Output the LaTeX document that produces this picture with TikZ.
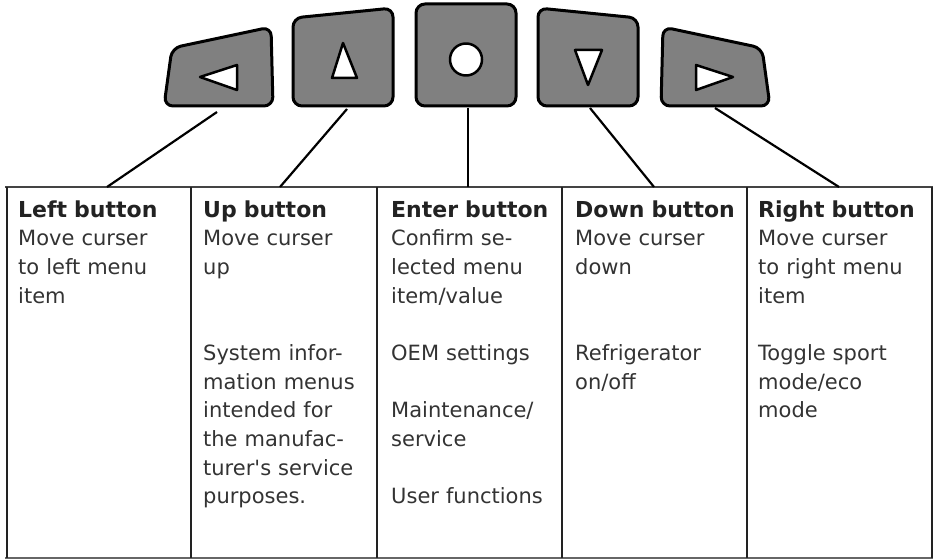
\documentclass[tikz,border=0pt]{standalone}
\usepackage{fontspec}
\setmainfont{DejaVu Sans}
\definecolor{btngray}{HTML}{808080}
\definecolor{rulecol}{HTML}{222222}
\definecolor{toprule}{HTML}{444444}
\definecolor{botrule}{HTML}{666666}
\definecolor{textcol}{HTML}{333333}
\definecolor{titlecol}{HTML}{222222}
\newcommand{\ttl}[1]{{\fontsize{22}{28.65}\selectfont\bfseries\color{titlecol}\strut #1}}
\newcommand{\gapline}{\\[28.65pt]}
\newcommand{\gaptwo}{\\[57.3pt]}
\begin{document}
\begin{tikzpicture}[x=1pt,y=-1pt,
  btn/.style={draw=black,line width=3pt,fill=btngray,rounded corners=9pt,line join=round},
  icon/.style={draw=black,line width=2.5pt,fill=white,line join=round},
  link/.style={draw=black,line width=2.2pt},
  colrule/.style={draw=rulecol,line width=2.4pt},
  cell/.style={anchor=north west,inner sep=0pt,align=left,text width=172pt,
    font=\fontsize{21}{28.65}\selectfont,text=textcol}]
\useasboundingbox (0,0) rectangle (933,559);

% buttons
\draw[btn] (172,48) -- (271,27) -- (273,106) -- (164,106) -- cycle;
\draw[btn] (293,18) -- (393,8) -- (393,106) -- (293,106) -- cycle;
\draw[btn] (416,4) -- (516,4) -- (516,106) -- (416,106) -- cycle;
\draw[btn] (538,8) -- (638,18) -- (638,106) -- (538,106) -- cycle;
\draw[btn] (663,27) -- (762,48) -- (770,106) -- (661,106) -- cycle;

% icons
\draw[icon] (200,77) -- (237,65) -- (237,90) -- cycle;
\draw[icon] (343,43) -- (357,78) -- (332,78) -- cycle;
\draw[icon] (466,59.5) circle[radius=16];
\draw[icon] (575,50) -- (602,50) -- (588,85) -- cycle;
\draw[icon] (696,65) -- (733,77) -- (696,90) -- cycle;

% table
\draw[draw=toprule,line width=2.2pt] (5,187) -- (933,187);
\draw[draw=botrule,line width=1.8pt] (5,558) -- (933,558);
\foreach \x in {7,191,377,562,747,932}
  \draw[colrule] (\x,187) -- (\x,558);

% connector end points
\coordinate (bL) at (217,112);
\coordinate (bU) at (347,109);
\coordinate (bE) at (468,108);
\coordinate (bD) at (590,108);
\coordinate (bR) at (715,108);
\coordinate (tL) at (107,187);
\coordinate (tU) at (280,187);
\coordinate (tE) at (468,187);
\coordinate (tD) at (654,187);
\coordinate (tR) at (839,187);
\draw[link] (bL) -- (tL);
\draw[link] (bU) -- (tU);
\draw[link] (bE) -- (tE);
\draw[link] (bD) -- (tD);
\draw[link] (bR) -- (tR);

% cells
\node[cell] (cL) at (18,196.94) {\ttl{Left button}\\ Move curser\\ to left menu\\ item};
\node[cell] (cU) at (203,196.94) {\ttl{Up button}\\ Move curser\\ up\gaptwo System infor-\\ mation menus\\ intended for\\ the manufac-\\ turer\textquotesingle s service\\ purposes.};
\node[cell] (cE) at (391,196.94) {\ttl{Enter button}\\ Confirm se-\\ lected menu\\ item/value\gapline OEM settings\gapline Maintenance/\\ service\gapline User functions};
\node[cell] (cD) at (575,196.94) {\ttl{Down button}\\ Move curser\\ down\gaptwo Refrigerator\\ on/off};
\node[cell] (cR) at (758,196.94) {\ttl{Right button}\\ Move curser\\ to right menu\\ item\gapline Toggle sport\\ mode/eco\\ mode};
\end{tikzpicture}
\end{document}
